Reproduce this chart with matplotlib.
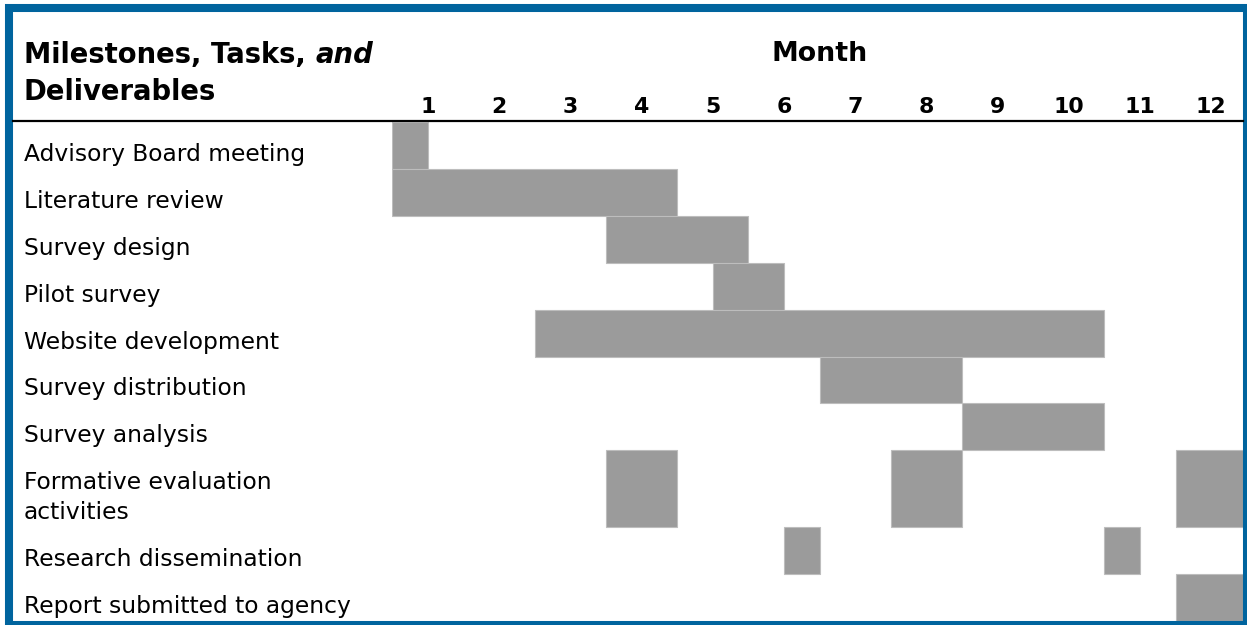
import matplotlib
matplotlib.use("Agg")
import matplotlib.pyplot as plt
import matplotlib.transforms as mtransforms
from matplotlib.patches import Rectangle

plt.rcParams['font.family'] = ['DejaVu Sans']

# Schedule data (months counted from the start of month 1)
tasks = ["Advisory Board meeting", "Literature review", "Survey design", "Pilot survey",
         "Website development", "Survey distribution", "Survey analysis",
         "Formative evaluation\nactivities", "Research dissemination",
         "Report submitted to agency"]
starts = [[0], [0], [3], [4.5], [2], [6], [8], [3, 7, 11], [5.5, 10], [11]]
lengths = [[0.5], [4], [2], [1], [8], [2], [2], [1, 1, 1], [0.5, 0.5], [1]]
months = list(range(1, 13))

W, H = 1247, 625
fig = plt.figure(figsize=(W / 100, H / 100), dpi=100)

# row heights: two-line label row is taller
row_h = [1.0] * len(tasks)
row_h[7] = 77 / 47
tops = [sum(row_h[:i]) for i in range(len(tasks))]
total = sum(row_h)

ax = fig.add_axes([392.4 / W, (H - 621) / H, 854.4 / W, (621 - 122) / H])
ax.set_xlim(0, 12)
ax.set_ylim(total, 0)
ax.axis('off')

bar_color = '#9b9b9b'
for i in range(len(tasks)):
    for s, d in zip(starts[i], lengths[i]):
        ax.add_patch(Rectangle((s, tops[i]), d, row_h[i], facecolor=bar_color,
                               edgecolor='#bdbdbd', linewidth=0.8))

# row labels, one text per line so every first line sits at the same offset
lab_tr = mtransforms.blended_transform_factory(fig.transFigure, ax.transData)
for i, name in enumerate(tasks):
    for k, line in enumerate(name.split("\n")):
        ax.text(24 / W, tops[i] + (39 + 30 * k) / 47, line, transform=lab_tr,
                fontsize=16.8, va='baseline', ha='left', color='black')

# month header
mon_tr = mtransforms.blended_transform_factory(ax.transData, fig.transFigure)
for m in months:
    ax.text(m - 0.5, (H - 113) / H, str(m), transform=mon_tr, fontsize=15.8,
            fontweight='bold', ha='center', va='baseline')
ax.text(6, (H - 61) / H, "Month", transform=mon_tr, fontsize=19.3,
        fontweight='bold', ha='center', va='baseline')

# column title, with italic "and"
t1 = fig.text(24 / W, (H - 63) / H, "Milestones, Tasks,", fontsize=19.8,
              fontweight='bold', va='baseline', ha='left')
fig.text(24 / W, (H - 100) / H, "Deliverables", fontsize=19.8,
         fontweight='bold', va='baseline', ha='left')
renderer = fig.canvas.get_renderer()
bb = t1.get_window_extent(renderer)
fig.text((bb.x1 + 10) / W, (H - 63) / H, "and", fontsize=19.8, fontweight='bold',
         fontstyle='italic', va='baseline', ha='left')

# header rule
fig.add_artist(plt.Line2D([13 / W, 1243 / W], [(H - 121) / H, (H - 121) / H],
                          color='black', linewidth=1.6))

# blue frame
fig.add_artist(Rectangle((9 / W, 0 / H), (1247 - 9) / W, (H - 8) / H,
                         transform=fig.transFigure, fill=False,
                         edgecolor='#00649e', linewidth=5.8, clip_on=False))

fig.savefig("out.png", dpi=100)
